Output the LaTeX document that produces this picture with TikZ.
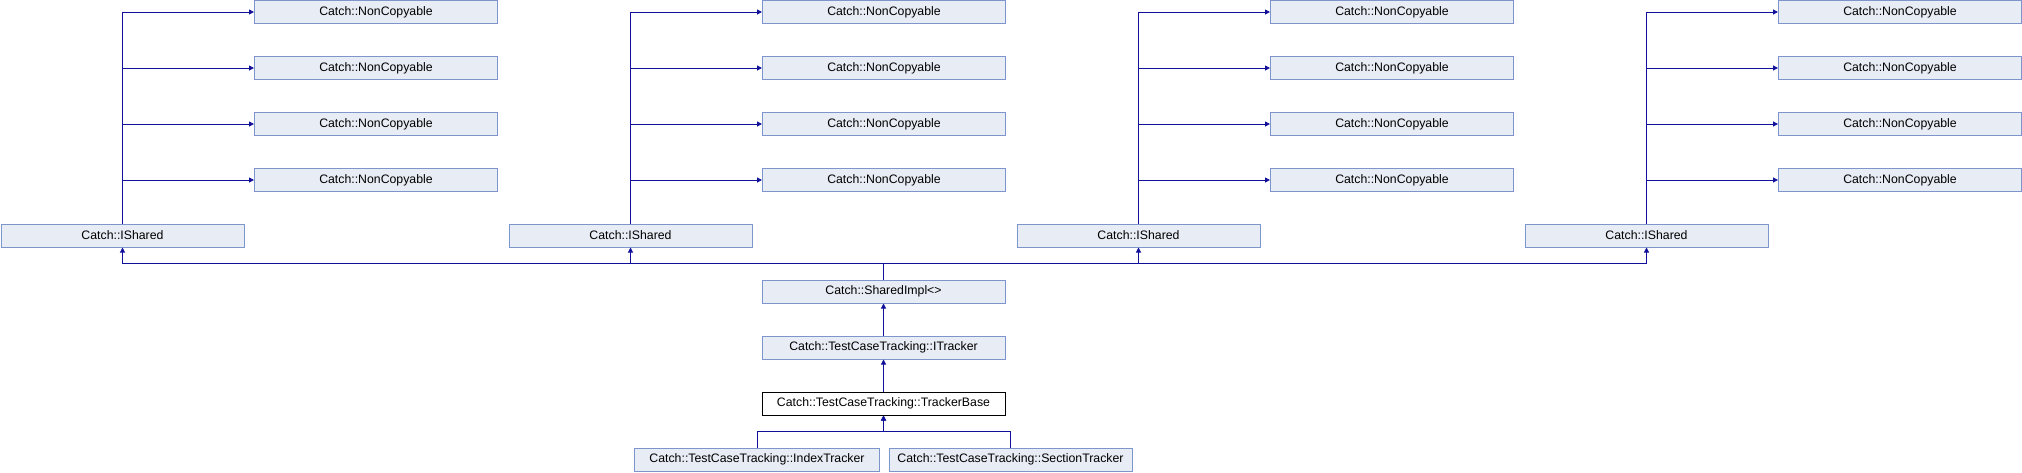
\documentclass[tikz,border=0pt]{standalone}
\usepackage{fontspec}
\setmainfont{Liberation Sans}
\usetikzlibrary{arrows.meta}
\definecolor{boxfill}{HTML}{E8ECF4}
\definecolor{boxline}{HTML}{7C95CD}
\definecolor{edge}{HTML}{10109A}
\begin{document}
\begin{tikzpicture}[x=1pt,y=-1pt,
  cls/.style={draw=boxline,fill=boxfill,line width=1pt,minimum width=243pt,minimum height=23pt,inner sep=0pt,font=\fontsize{12.3}{14}\selectfont},
  cur/.style={cls,draw=black,fill=white},
  arr/.style={draw=edge,line width=1pt,-{Triangle[length=5pt,width=5pt]}},
  ln/.style={draw=edge,line width=1pt}]
\useasboundingbox (0,0) rectangle (2022,472);
\foreach \k in {0,1,2,3}{
  \node[cls] (is\k) at ({122.5+508*\k},235.5) {Catch::IShared};
  \foreach \r in {0,1,2,3}{
    \node[cls] (nc\k\r) at ({376+508*\k},{12+56*\r}) {Catch::NonCopyable};
  }
  \draw[ln] (is\k.north) -- (is\k.north |- nc\k0.west);
  \foreach \r in {0,1,2,3}{
    \draw[arr] (is\k.north |- nc\k\r.west) -- (nc\k\r.west);
  }
}
\node[cls] (shared) at (883.5,291.5) {Catch::SharedImpl<>};
\node[cls] (itr) at (883.5,347.5) {Catch::TestCaseTracking::ITracker};
\node[cur] (tb) at (883.5,403.5) {Catch::TestCaseTracking::TrackerBase};
\node[cls,minimum width=245pt] (idx) at (757,459.5) {Catch::TestCaseTracking::IndexTracker};
\node[cls] (sec) at (1010.5,459.5) {Catch::TestCaseTracking::SectionTracker};
\foreach \k in {0,1,2,3}{
  \draw[arr] (shared.north) -- ++(0,-16) -| (is\k.south);
}
\draw[arr] (itr.north) -- (shared.south);
\draw[arr] (tb.north) -- (itr.south);
\draw[arr] (idx.north) -- ++(0,-16) -| (tb.south);
\draw[arr] (sec.north) -- ++(0,-16) -| (tb.south);
\end{tikzpicture}
\end{document}
